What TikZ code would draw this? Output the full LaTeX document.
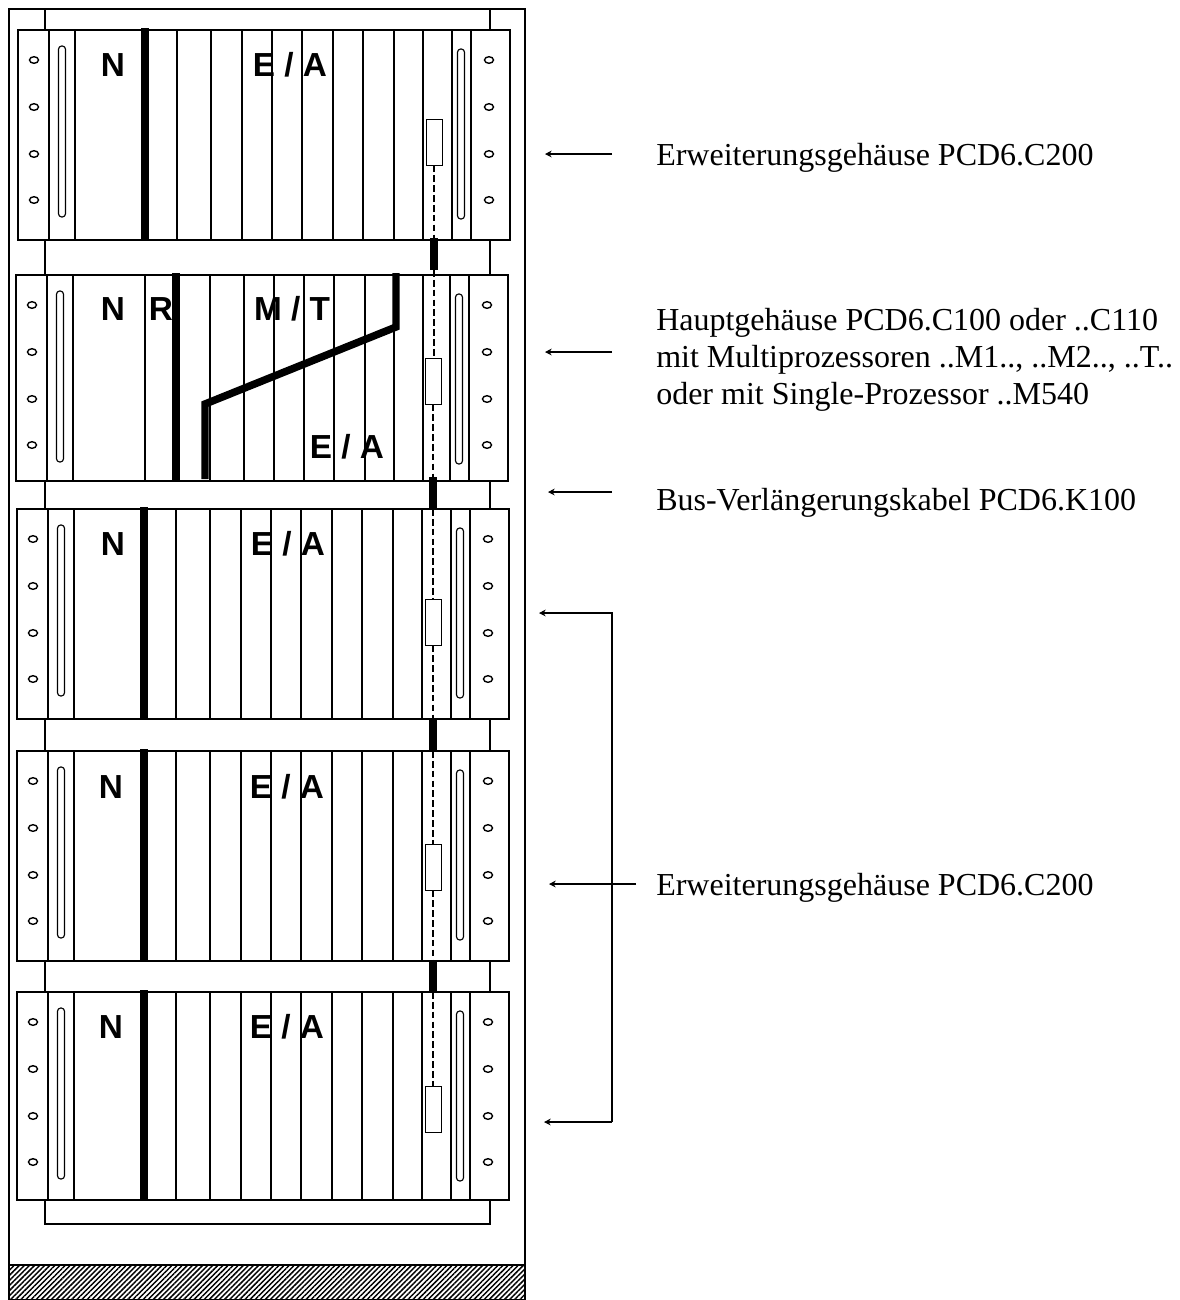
\documentclass[tikz,border=0pt]{standalone}
\usepackage{fontspec}
\setmainfont{Liberation Serif}
\newfontfamily\plate{Liberation Sans}
\usetikzlibrary{arrows.meta,patterns.meta,positioning}

% one housing: name, left, top, height, slot dividers
\newcommand{\rackunit}[5]{
  \node[rackbox, minimum height=#4*0.75pt] (#1) at (#2,#3) {};
  \begin{scope}[shift={(#2,#3)}]
    \foreach \dx in {#5} \draw[line] (\dx,0) -- (\dx,#4);
    \foreach \hy in {30,77,124,170} {
      \draw[hole] (16,\hy) ellipse (4.5 and 3.3);
      \draw[hole] (471,\hy) ellipse (4.5 and 3.3);
    }
    \draw[line, rounded corners=2.4pt] (40.5,16) rectangle (47.5,187);
    \draw[line, rounded corners=2.4pt] (439.5,19) rectangle (446.5,189);
  \end{scope}
}

\begin{document}
\begin{tikzpicture}[
  x=0.75pt, y=-0.75pt,
  line/.style={line width=0.85pt},
  hole/.style={line width=1.05pt},
  rackbox/.style={draw, line width=0.85pt, fill=white, anchor=north west, minimum width=369pt, inner sep=0pt, outer sep=0pt},
  thk/.style={line width=5.6pt},
  plug/.style={draw, line width=0.7pt, fill=white, minimum width=12pt, minimum height=34.5pt, inner sep=0pt},
  bus/.style={fill=black, minimum width=5.6pt, minimum height=24pt, inner sep=0pt, outer sep=0pt},
  link/.style={dash pattern=on 5pt off 2.4pt, line width=0.8pt},
  lett/.style={font=\plate\bfseries\fontsize{25}{25}\selectfont, inner sep=0pt},
  lbl/.style={font=\fontsize{24}{28}\selectfont, align=left, anchor=west, inner sep=0pt},
  arr/.style={-{Stealth[length=5pt, width=5pt]}, line width=0.8pt}
]
\useasboundingbox (0,0) rectangle (1179,1300);

% cabinet and rails
\draw[line] (9,9) rectangle (525,1265);
\draw[line] (45,9) -- (45,1224) -- (490,1224) -- (490,9);
\node[draw, line width=0.85pt, anchor=north west, minimum width=387pt, minimum height=26.25pt, inner sep=0pt, outer sep=0pt,
  pattern={Lines[angle=45, distance=2.7pt, line width=1.1pt]}] (floor) at (9,1265) {};

% housings
\rackunit{rackA}{18}{30}{210}{31,57,159,193,224,254,284,315,345,376,405,434,453}
\rackunit{rackB}{16}{275}{206}{31,57,129,194,228,258,288,318,349,378,407,434,453}
\rackunit{rackC}{17}{509}{210}{31,57,159,193,224,254,284,315,345,376,405,434,453}
\rackunit{rackD}{17}{751}{210}{31,57,159,193,224,254,284,315,345,376,405,434,453}
\rackunit{rackE}{17}{992}{208}{31,57,159,193,224,254,284,315,345,376,405,434,453}

% power dividers
\draw[thk] (145,28) -- (145,240);
\draw[thk] (144,507) -- (144,719);
\draw[thk] (144,749) -- (144,961);
\draw[thk] (144,990) -- (144,1200);
\draw[thk] (176,273) -- (176,481);
\draw[thk] (396,273) -- (396,327) -- (205,404) -- (205,479);

% bus cables and plugs
\node[bus] (busA) at (434,254) {};
\node[bus] (busB) at (433,493) {};
\node[bus] (busC) at (433,735) {};
\node[bus] (busD) at (433,976) {};
\node[plug] (plugA) at (434,142) {};
\node[plug] (plugB) at (433,381) {};
\node[plug] (plugC) at (433,622) {};
\node[plug] (plugD) at (433,867) {};
\node[plug] (plugE) at (433,1109) {};
\draw[link] (plugA) -- (busA);
\draw[link] (busA) -- (busA |- plugB.north);
\draw[link] (plugB) -- (busB);
\draw[link] (busB) -- (plugC);
\draw[link] (plugC) -- (busC);
\draw[link] (busC) -- (plugD);
\draw[link] (plugD) -- (busD);
\draw[link] (busD) -- (plugE);

% front plates
\node[lett] (nA) at (113,65) {N};
\node[lett] (eaA) at (290,65) {E / A};
\node[lett] (nB) at (113,309) {N};
\node[lett] (rB) at (161,309) {R};
\node[lett] (mtB) at (292,309) {M / T};
\node[lett] (eaB) at (347,447) {E / A};
\node[lett] (nC) at (113,544) {N};
\node[lett] (eaC) at (288,544) {E / A};
\node[lett] (nD) at (111,787) {N};
\node[lett] (eaD) at (287,787) {E / A};
\node[lett] (nE) at (111,1027) {N};
\node[lett] (eaE) at (287,1027) {E / A};

% labels
\node[lbl] (extA) at (656,158) {Erweiterungsgehäuse PCD6.C200};
\node[lbl] (main) at (656,360) {Hauptgehäuse PCD6.C100 oder ..C110\\mit Multiprozessoren ..M1.., ..M2.., ..T..\\oder mit Single-Prozessor ..M540};
\node[lbl] (cable) at (656,503) {Bus-Verlängerungskabel PCD6.K100};
\node[lbl] (extB) at (656,888) {Erweiterungsgehäuse PCD6.C200};

% arrows
\coordinate (tA) at (612,154);
\coordinate (hA) at (545,154);
\coordinate (tB) at (612,352);
\coordinate (hB) at (545,352);
\coordinate (tC) at (612,492);
\coordinate (hC) at (548,492);
\coordinate (tD) at (636,884);
\coordinate (hD) at (549,884);
\coordinate (brU) at (612,613);
\coordinate (hU) at (539,613);
\coordinate (brL) at (612,1122);
\coordinate (hL) at (544,1122);
\draw[arr] (tA) -- (hA);
\draw[arr] (tB) -- (hB);
\draw[arr] (tC) -- (hC);
\draw[arr] (tD) -- (hD);
\draw[arr] (brL) -- (brU) -- (hU);
\draw[arr] (brL) -- (hL);

\end{tikzpicture}
\end{document}
